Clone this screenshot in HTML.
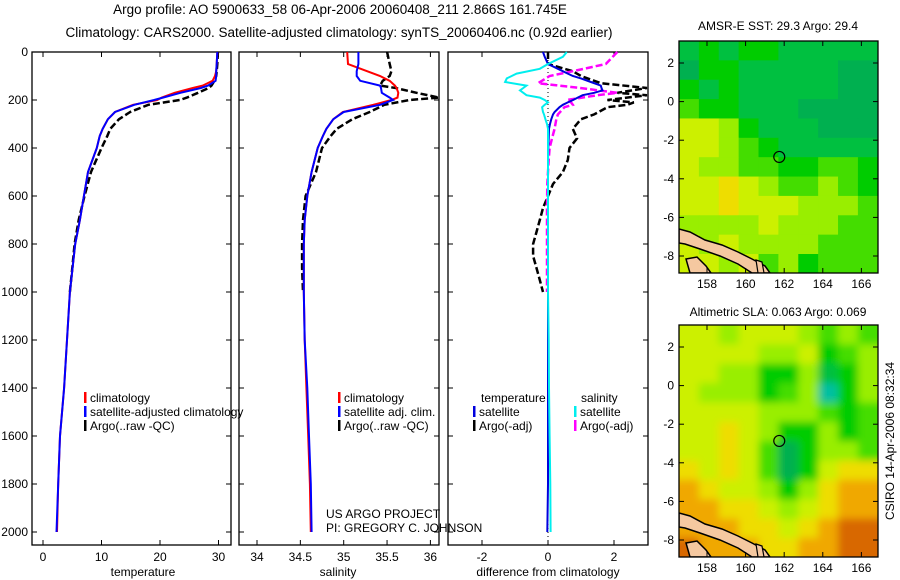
<!DOCTYPE html>
<html><head><meta charset="utf-8"><style>
html,body{margin:0;padding:0;background:#fff;}
svg{display:block;font-family:"Liberation Sans",sans-serif;}
</style></head><body>
<svg id="fig" width="900" height="580" viewBox="0 0 900 580" xmlns="http://www.w3.org/2000/svg">
<defs>
<filter id="blur" x="-5%" y="-5%" width="110%" height="110%"><feGaussianBlur stdDeviation="4"/></filter>
<clipPath id="c1"><rect x="32" y="41" width="199" height="504"/></clipPath>
<clipPath id="c2"><rect x="239" y="41" width="200" height="504"/></clipPath>
<clipPath id="c3"><rect x="448" y="41" width="200" height="504"/></clipPath>
<clipPath id="m1"><rect x="679" y="41" width="199" height="232"/></clipPath>
<clipPath id="m2"><rect x="679" y="325" width="199" height="232"/></clipPath>
</defs>
<text x="340" y="14" font-size="13.5" text-anchor="middle">Argo profile: AO 5900633_58 06-Apr-2006 20060408_211 2.866S 161.745E</text>
<text x="339" y="37" font-size="13.5" text-anchor="middle">Climatology: CARS2000. Satellite-adjusted climatology: synTS_20060406.nc (0.92d earlier)</text>
<g id="g1"></g>
<g id="g2"></g>
<g id="g3"></g>
<g id="mapA"></g>
<g id="mapB"></g>
<text x="778" y="30" font-size="12" text-anchor="middle">AMSR-E SST: 29.3 Argo: 29.4</text>
<text x="778" y="316" font-size="12" text-anchor="middle">Altimetric SLA: 0.063 Argo: 0.069</text>
<text transform="translate(894,441) rotate(-90)" font-size="12" text-anchor="middle">CSIRO 14-Apr-2006 08:32:34</text>
<text x="326" y="518" font-size="12">US ARGO PROJECT</text>
<text x="326" y="532" font-size="12">PI: GREGORY C. JOHNSON</text>
</svg>
<script>
// ---- profile data ----
const depthProf = [0,50,80,100,120,140,150,170,190,200,220,250,280,320,350,400,500,600,700,800,1000,1200,1400,1600,1800,2000];
const tempClim = [29.8,29.7,29.6,29.4,29.0,27.3,25.6,22.5,20.3,19.5,15.4,12.3,11.1,10.2,9.7,9.2,7.7,7.0,6.3,5.5,4.6,4.1,3.6,2.9,2.6,2.4];
const tempSat  = [29.8,29.7,29.6,29.6,29.5,28.2,27.0,23.5,20.5,19.0,15.6,12.3,11.1,10.2,9.7,9.2,7.7,7.0,6.3,5.5,4.6,4.1,3.6,2.9,2.6,2.3];
const depthArgo = [0,50,80,100,120,140,150,170,190,200,220,250,280,320,350,400,500,600,700,800,900,1000];
const tempArgo = [29.9,29.8,29.7,29.6,29.3,28.8,28.3,26.5,24.6,23.4,18.0,14.9,13.0,11.5,11.0,10.0,8.2,7.1,6.1,5.4,5.0,4.6];
const salClim = [35.04,35.05,35.27,35.42,35.53,35.59,35.61,35.63,35.62,35.55,35.34,34.99,34.88,34.80,34.76,34.70,34.63,34.58,34.55,34.54,34.54,34.55,34.57,34.59,34.61,34.62];
const salSat  = [35.17,35.17,35.15,35.15,35.19,35.42,35.43,35.44,35.53,35.57,35.42,35.00,34.88,34.80,34.76,34.70,34.63,34.58,34.55,34.54,34.54,34.55,34.58,34.60,34.62,34.63];
const salArgo = [35.50,35.53,35.55,35.53,35.45,35.42,35.60,35.84,36.10,35.76,35.47,35.30,35.10,34.92,34.85,34.75,34.68,34.56,34.53,34.52,34.52,34.53];
// ---- difference data ----
const depthDiff = [0,20,50,70,90,100,110,125,140,150,160,170,180,190,200,210,220,230,250,260,280,300,320,360,400,450,500,550,650,700,750,800,850,900,950,1000,1200,1400,1600,1800,2000];
const diffTempSat = [-0.15,-0.1,0,0.3,0.6,0.75,1.0,1.3,1.6,1.62,1.65,1.4,1.05,0.9,0.76,0.6,0.45,0.35,0.2,0.15,0.1,0.06,0.03,0.02,0.01,0,0,0,0,0,0,0,0,0,0,0,0,0,0,0,-0.02];
const diffSalSat = [0.57,0.45,0,-0.25,-0.95,-1.1,-1.25,-1.3,-0.65,-0.75,-0.85,-0.75,-0.65,-0.25,-0.1,0,-0.1,-0.18,-0.15,-0.12,-0.08,-0.03,0,0,0,0,0,0,0,0,0,0,0,0,0,0,0.02,0.03,0.05,0.07,0.08];
const depthArgoDiff = [0,50,80,100,130,150,170,180,200,210,220,230,260,280,320,360,400,450,500,550,650,700,750,800,850,900,950,1000];
const diffTempArgo = [0,0,0.75,1.0,1.6,3.0,2.1,3.0,1.8,2.6,2.4,1.8,1.4,1.0,0.75,0.88,0.65,0.6,0.45,0.15,-0.15,-0.25,-0.35,-0.45,-0.45,-0.35,-0.25,-0.15];
const diffSalArgo = [2.1,1.75,0.75,0.05,-0.3,0.97,2.1,1.5,0.57,0.7,0.75,0.5,0.3,0.25,0.2,0.12,0.05,0.02,0,-0.02,-0.03,-0.03,-0.03,-0.03,-0.03,-0.03,-0.03,-0.03];
// ---- axis ticks ----
const depthTicks = [0,200,400,600,800,1000,1200,1400,1600,1800,2000];
const tempTicks = [0,10,20,30];
const salTicks = [34,34.5,35,35.5,36];
const diffTicks = [-2,0,2];
const latTicks = [2,0,-2,-4,-6,-8];
const lonTicks = [158,160,162,164,166];
// ---- map grids (colour index 0-10), rows from north to south, 10 cols from 156.5E to 166.9E ----
const sstGrid = [
[3,4,3,4,4,3,3,3,3,3],[2,4,4,3,3,3,3,3,2,2],[4,3,4,3,3,3,3,3,2,2],[5,4,4,3,3,3,2,2,2,2],
[7,7,6,4,3,3,3,2,2,2],[7,7,6,5,4,3,3,3,3,3],[7,6,6,5,5,4,4,5,5,4],[7,7,8,7,6,5,5,6,5,4],
[7,7,8,7,7,7,6,6,6,5],[6,6,6,6,7,6,6,6,5,5],[7,6,7,6,6,6,6,5,5,5],[7,7,6,7,5,6,4,5,5,5]];
const slaGrid = [
[7,7,6,7,7,7,6,5,6,5],[7,7,7,7,6,6,7,4,5,6],[7,7,6,6,4,4,6,3,4,6],[7,6,6,6,4,5,6,1,4,6],
[7,7,7,7,6,6,6,5,4,5],[7,7,8,7,6,4,4,6,4,5],[7,7,8,7,5,2,4,6,6,5],[8,7,8,7,5,2,4,7,8,8],
[9,8,7,7,6,4,6,8,9,9],[9,9,8,8,7,6,7,8,9,9],[9,9,9,8,8,7,8,9,10,10],[10,9,9,9,8,8,9,9,10,10]];
const palette = ['#00d8c8','#00c0a0','#00b050','#00c040','#00cc00','#44dd00','#99ee00','#ccf000','#eedd00','#f0a800','#d86800'];
const floatLat = -2.866, floatLon = 161.745;

const NS='http://www.w3.org/2000/svg';
function mk(tag, attrs, parent){const e=document.createElementNS(NS,tag);for(const k in attrs)e.setAttribute(k,attrs[k]);parent.appendChild(e);return e;}
const yD = d => 52 + d*0.24;
const xT = t => 43 + t*5.85;
const xS = s => 257 + (s-34)*86.7;
const xDf = v => 548 + v*33;

function line(g, xs, ds, xf, color, w, dash, clip, name){
  const pts = xs.map((v,i)=>xf(v).toFixed(1)+','+yD(ds[i]).toFixed(1)).join(' ');
  const p = mk('polyline',{points:pts,fill:'none',stroke:color,'stroke-width':w,'clip-path':'url(#'+clip+')'},g);
  if(dash) p.setAttribute('stroke-dasharray',dash);
  
  
}
function frame(g, x0, x1, ticks, xf, fmt, label, labelX, showDepth){
  const r = mk('rect',{x:x0,y:52,width:x1-x0,height:493,fill:'none',stroke:'#000','stroke-width':1.3},g);
  
  
  ticks.forEach(t=>{
    const x=xf(t);
    mk('line',{x1:x,x2:x,y1:545,y2:540,stroke:'#000'},g);
    mk('line',{x1:x,x2:x,y1:52,y2:57,stroke:'#000'},g);
    const tx = mk('text',{x:x,y:561,'font-size':12,'text-anchor':'middle'},g);
    tx.textContent = fmt(t);
    
    
  });
  depthTicks.forEach(d=>{
    const y=yD(d);
    mk('line',{x1:x0,x2:x0+5,y1:y,y2:y,stroke:'#000'},g);
    mk('line',{x1:x1,x2:x1-5,y1:y,y2:y,stroke:'#000'},g);
    if(showDepth){
      const tx=mk('text',{x:28,y:y+4,'font-size':12,'text-anchor':'end'},g);
      tx.textContent=d;
      
      
    }
  });
  const lt=mk('text',{x:labelX,y:576,'font-size':12,'text-anchor':'middle'},g);
  lt.textContent=label;
  
  
}
function legend(g, x, y, color, text){
  mk('rect',{x:x,y:y-10,width:2.5,height:11,fill:color},g);
  const t=mk('text',{x:x+6,y:y,'font-size':12},g);
  t.textContent=text;
  
  
}

// Panel 1
const g1=document.getElementById('g1');
frame(g1,32,231,tempTicks,xT,v=>v,'temperature',143,true);
line(g1,tempArgo,depthArgo,xT,'#000',2.5,'7,3','c1','argo-temperature-line');
line(g1,tempClim,depthProf,xT,'#ff0000',2,null,'c1','climatology-temperature-line');
line(g1,tempSat,depthProf,xT,'#0000ff',2,null,'c1','satellite-temperature-line');
legend(g1,84,402,'#ff0000','climatology');
legend(g1,84,416,'#0000ff','satellite-adjusted climatology');
legend(g1,84,430,'#000','Argo(..raw -QC)');
// Panel 2
const g2=document.getElementById('g2');
frame(g2,239,439,salTicks,xS,v=>v,'salinity',338,false);
line(g2,salArgo,depthArgo,xS,'#000',2.5,'7,3','c2','argo-salinity-line');
line(g2,salClim,depthProf,xS,'#ff0000',2,null,'c2','climatology-salinity-line');
line(g2,salSat,depthProf,xS,'#0000ff',2,null,'c2','satellite-salinity-line');
legend(g2,338,402,'#ff0000','climatology');
legend(g2,338,416,'#0000ff','satellite adj. clim.');
legend(g2,338,430,'#000','Argo(..raw -QC)');
// Panel 3
const g3=document.getElementById('g3');
frame(g3,448,648,diffTicks,xDf,v=>v,'difference from climatology',548,false);
mk('line',{x1:548,x2:548,y1:52,y2:545,stroke:'#000','stroke-dasharray':'1,3','stroke-width':1},g3);
line(g3,diffTempArgo,depthArgoDiff,xDf,'#000',2.5,'7,3','c3','argo-temperature-diff-line');
line(g3,diffSalArgo,depthArgoDiff,xDf,'#ff00ff',2.5,'7,3','c3','argo-salinity-diff-line');
line(g3,diffTempSat,depthDiff,xDf,'#0000dd',2,null,'c3','satellite-temperature-diff-line');
line(g3,diffSalSat,depthDiff,xDf,'#00eeee',2,null,'c3','satellite-salinity-diff-line');
const tl=mk('text',{x:481,y:402,'font-size':12},g3); tl.textContent='temperature';


const sl=mk('text',{x:581,y:402,'font-size':12},g3); sl.textContent='salinity';


legend(g3,473,416,'#0000dd','satellite');
legend(g3,473,430,'#000','Argo(-adj)');
legend(g3,574,416,'#00eeee','satellite');
legend(g3,574,430,'#ff00ff','Argo(-adj)');

// Maps
const LON0=156.55, LON1=166.85, LAT0=3.14, LAT1=-8.9, PX=19.3;
function drawMap(g, top, grid, clip, smooth, name){
  const xl = lon => 679 + (lon-LON0)*PX;
  const yl = lat => top + (LAT0-lat)*PX;
  const cg = mk('g',{'clip-path':'url(#'+clip+')'},g);
  const inner = mk('g',smooth?{filter:'url(#blur)'}:{},cg);
  const rows=grid.length, cols=grid[0].length;
  const cw=(LON1-LON0)/cols, ch=(LAT0-LAT1)/rows;
  grid.forEach((row,r)=>row.forEach((v,c)=>{
    const pad = smooth?10:0;
    let x=xl(LON0+c*cw), y=yl(LAT0-r*ch), w=cw*PX+0.6, h=ch*PX+0.6;
    if(smooth){ if(c===0){x-=pad;w+=pad;} if(c===cols-1)w+=pad; if(r===0){y-=pad;h+=pad;} if(r===rows-1)h+=pad; }
    const cell=mk('rect',{x:x,y:y,width:w,height:h,fill:palette[v]},inner);
    
    
  }));
  // coast
  const d=top-41;
  const coast=mk('polygon',{points:`679,${229+d} 690,${232+d} 705,${240+d} 722,${245+d} 738,${252+d} 752,${259+d} 765,${266+d} 770,${273+d} 752,${273+d} 738,${264+d} 720,${256+d} 700,${249+d} 685,${244+d} 679,${243+d}`,fill:'#f5c8a0',stroke:'#000','stroke-width':1.5},cg);
  
  
  mk('polygon',{points:`686,${259+d} 697,${257+d} 706,${266+d} 711,${273+d} 690,${273+d}`,fill:'#f5c8a0',stroke:'#000','stroke-width':1.5},cg);
  mk('polygon',{points:`756,${260+d} 762,${262+d} 764,${273+d} 758,${273+d}`,fill:'#f5c8a0',stroke:'#000','stroke-width':1.2},cg);
  const circ=mk('circle',{cx:xl(floatLon),cy:yl(floatLat),r:5.5,fill:'none',stroke:'#000','stroke-width':1.2},g);
  
  
  mk('rect',{x:679,y:top,width:199,height:232,fill:'none',stroke:'#000','stroke-width':1.3},g);
  latTicks.forEach(l=>{
    const y=yl(l);
    mk('line',{x1:679,x2:684,y1:y,y2:y,stroke:'#000'},g);
    mk('line',{x1:878,x2:873,y1:y,y2:y,stroke:'#000'},g);
    const t=mk('text',{x:674,y:y+4,'font-size':12,'text-anchor':'end'},g); t.textContent=l;
    
    
  });
  lonTicks.forEach(l=>{
    const x=xl(l);
    mk('line',{x1:x,x2:x,y1:top,y2:top+5,stroke:'#000'},g);
    mk('line',{x1:x,x2:x,y1:top+232,y2:top+227,stroke:'#000'},g);
    const t=mk('text',{x:x,y:top+247,'font-size':12,'text-anchor':'middle'},g); t.textContent=l;
    
    
  });
}
drawMap(document.getElementById('mapA'),41,sstGrid,'m1',false,'sst');
drawMap(document.getElementById('mapB'),325,slaGrid,'m2',true,'sla');
</script>
</body></html>
